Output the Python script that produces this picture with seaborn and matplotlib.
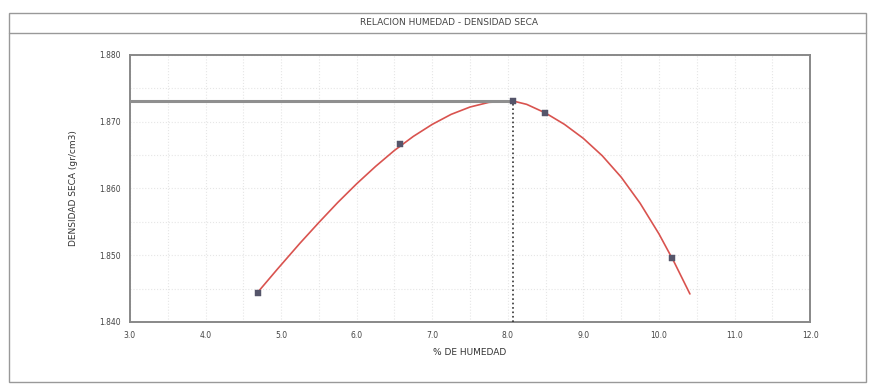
import numpy as np
import pandas as pd
import seaborn as sns
import matplotlib.pyplot as plt
from matplotlib.patches import Rectangle
from matplotlib.lines import Line2D

# puntos del ensayo
humedad = [4.69, 6.57, 8.07, 8.49, 10.17]
densidad = [1.8443, 1.8666, 1.8731, 1.8713, 1.8496]

# curva de ajuste
curva_x = [4.68, 4.95, 5.25, 5.50, 5.75, 6.00, 6.25, 6.50, 6.75, 7.00, 7.25, 7.50, 7.75,
           8.07, 8.25, 8.50, 8.75, 9.00, 9.25, 9.50, 9.75, 10.00, 10.20, 10.41]
curva_y = [1.8443, 1.8479, 1.8518, 1.8549, 1.8579, 1.8607, 1.8633, 1.8657, 1.8678,
           1.8696, 1.8711, 1.8722, 1.8729, 1.8731, 1.8726, 1.8713, 1.8696, 1.8675,
           1.8649, 1.8617, 1.8578, 1.8532, 1.8490, 1.8442]

# optimo
hum_opt = 8.07
dens_max = 1.8731

x_ticks = [3.0, 4.0, 5.0, 6.0, 7.0, 8.0, 9.0, 10.0, 11.0, 12.0]
y_ticks = [1.840, 1.850, 1.860, 1.870, 1.880]

sns.set_style("white")
plt.rcParams['font.family'] = ['DejaVu Sans']

fig = plt.figure(figsize=(8.72, 3.87), dpi=100)
ax = fig.add_axes([0.149, 0.168, 0.78, 0.69])

puntos = pd.DataFrame({'humedad': humedad, 'densidad': densidad})
curva = pd.DataFrame({'x': curva_x, 'y': curva_y})

# grilla suave
ax.set_xticks(np.arange(3.0, 12.01, 0.5), minor=True)
ax.set_yticks(np.arange(1.840, 1.8801, 0.005), minor=True)
ax.grid(True, which='both', color='#e6e6e6', linestyle=':', linewidth=0.8)

sns.lineplot(data=curva, x='x', y='y', sort=False, color='#d9534f', linewidth=1.2, ax=ax)
sns.scatterplot(data=puntos, x='humedad', y='densidad', marker='s', s=16,
                color='#55556a', edgecolor='#55556a', zorder=5, ax=ax)

# lineas del optimo
ax.plot([3.0, hum_opt], [dens_max, dens_max], color='#8f8f8f', linewidth=2.2, zorder=3)
ax.plot([hum_opt, hum_opt], [1.840, dens_max], color='#333333', linestyle=':', linewidth=1.2, zorder=3)

ax.set_xlim(3.0, 12.0)
ax.set_ylim(1.840, 1.880)
ax.set_xticks(x_ticks)
ax.set_xticklabels([f'{v:.1f}' for v in x_ticks], fontsize=5.5, color='#444444')
ax.set_yticks(y_ticks)
ax.set_yticklabels([f'{v:.3f}' for v in y_ticks], fontsize=5.5, color='#444444')
ax.tick_params(axis='both', length=3, color='#777777', width=0.8)

for s in ax.spines.values():
    s.set_color('#888888')
    s.set_linewidth(1.4)

ax.set_xlabel('% DE HUMEDAD', fontsize=6.5, color='#333333', labelpad=6)
ax.set_ylabel('DENSIDAD SECA (gr/cm3)', fontsize=6.5, color='#333333', labelpad=15)

# marco y titulo
fig.patches.append(Rectangle((0.010, 0.012), 0.983, 0.955, transform=fig.transFigure,
                             fill=False, edgecolor='#999999', linewidth=1.0))
fig.lines.append(Line2D([0.010, 0.993], [0.915, 0.915], transform=fig.transFigure,
                        color='#999999', linewidth=1.0))
fig.text(0.515, 0.942, 'RELACION HUMEDAD - DENSIDAD SECA', ha='center', va='center',
         fontsize=6.5, color='#444444')

fig.savefig('out.png', dpi=100)
